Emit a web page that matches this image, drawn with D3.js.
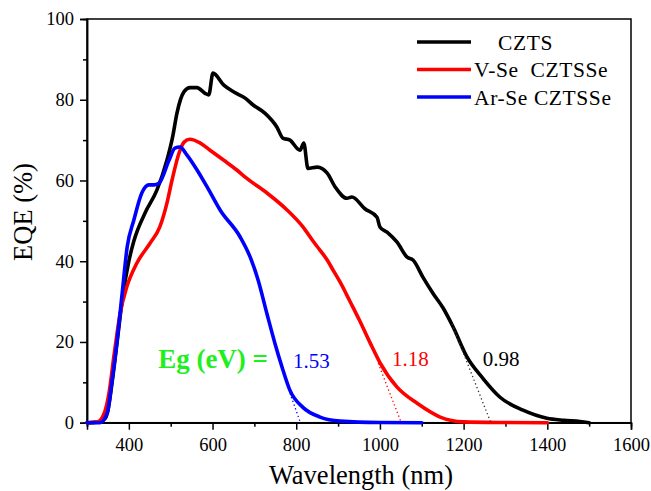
<!DOCTYPE html>
<html>
<head>
<meta charset="utf-8">
<script src="https://cdnjs.cloudflare.com/ajax/libs/d3/7.8.5/d3.min.js"></script>
<style>
  body { margin: 0; background: #fff; }
  svg text { font-family: "Liberation Serif", "Times New Roman", serif; }
</style>
</head>
<body>
<svg id="chart" width="651" height="491"></svg>
<script>
// EQE curves (wavelength in nm, EQE in %)
var cztsWl  = [300, 330, 343, 350, 360, 372, 385, 400, 412, 439, 467, 491, 505, 515, 532, 546, 563, 582, 591, 601, 627, 651, 678, 697, 725, 754, 768, 785, 809, 818, 828, 850, 874, 893, 921, 933, 964, 993, 1000, 1017, 1041, 1065, 1079, 1103, 1127, 1151, 1175, 1208, 1246, 1287, 1342, 1399, 1440, 1478, 1500];
var cztsEqe = [0, 0.2, 1, 3, 10, 20, 31, 40, 45, 52, 57.6, 65, 71, 76.7, 82, 83, 83, 81.6, 81.2, 86.6, 83.6, 81.9, 80.4, 78.7, 76.7, 73.2, 70.5, 70, 67.5, 69.3, 63, 63.3, 61.8, 58.4, 55.6, 55.9, 53, 50.9, 48.5, 47.2, 44.7, 41, 40.3, 36, 32, 28.4, 23.7, 16.3, 11, 6.3, 3.1, 1.1, 0.6, 0.3, 0];

var vseWl  = [300, 325, 341, 352, 365, 379, 395, 419, 451, 474, 491, 503, 520, 532, 546, 570, 594, 627, 658, 682, 730, 778, 816, 840, 857, 874, 888, 905, 920, 936, 952, 976, 1000, 1041, 1089, 1144, 1199, 1300, 1400];
var vseEqe = [0, 0.2, 2.3, 7, 17, 27, 33.6, 39.5, 44.5, 48.5, 54.4, 60, 66.8, 69.5, 70.2, 69.3, 67.5, 65, 62.6, 60.5, 56.9, 52.7, 48.5, 45, 42.7, 40.3, 37.8, 34.8, 31.8, 28.5, 25.2, 19.9, 14.9, 8.8, 4.8, 1.4, 0.2, 0.05, 0];

var arseWl  = [300, 331, 348, 360, 372, 384, 396, 412, 431, 448, 460, 472, 496, 510, 522, 539, 563, 587, 618, 666, 690, 709, 730, 749, 766, 785, 816, 857, 905, 1000, 1100];
var arseEqe = [0, 0, 2.3, 10.5, 20.4, 32, 43.5, 50.2, 56.9, 58.9, 58.9, 59.3, 65, 68, 68.3, 66.3, 62.6, 58.4, 52.7, 46, 41, 35.3, 27, 19.7, 13.8, 8, 3.8, 1.4, 0.4, 0.05, 0];

var seriesNames  = ["CZTS", "V-Se  CZTSSe", "Ar-Se CZTSSe"];
var seriesColors = ["#000000", "#ff0000", "#0000ff"];

// band-edge tangent lines: [start wl, end wl] and [start eqe, end eqe]
var tangentWl  = [[785, 810], [996, 1051], [1172, 1265]];
var tangentEqe = [[7.3, 0], [14.7, 0], [24.5, 0]];
var tangentColors = ["#0000ff", "#ff0000", "#333333"];

// band gap labels, anchored in data units
var gapLabels = ["1.53", "1.18", "0.98"];
var gapLabelWl  = [792, 1029, 1246];
var gapLabelEqe = [13.5, 14, 14];
var gapLabelColors = ["#0000ff", "#ff0000", "#000000"];

var xMajor = [400, 600, 800, 1000, 1200, 1400, 1600];
var xMinor = [300, 500, 700, 900, 1100, 1300, 1500];
var yMajor = [0, 20, 40, 60, 80, 100];
var yMinor = [10, 30, 50, 70, 90];

var svg = d3.select("#chart");

var x = d3.scaleLinear().domain([300, 1600]).range([87, 631]);
var y = d3.scaleLinear().domain([0, 100]).range([422.7, 19]);

// frame
svg.append("rect")
	.attr("x", x(300))
	.attr("y", y(100))
	.attr("width", x(1600) - x(300))
	.attr("height", y(0) - y(100))
	.attr("fill", "none")
	.attr("stroke", "#000")
	.attr("stroke-width", 1.5);

// axes
svg.append("g")
	.attr("transform", "translate(0," + y(0) + ")")
	.call(d3.axisBottom(x).tickValues(xMajor).tickSize(7).tickPadding(8).tickFormat(d3.format("d")));
svg.append("g")
	.attr("transform", "translate(0," + y(0) + ")")
	.call(d3.axisBottom(x).tickValues(xMinor).tickSize(4).tickFormat(""));

svg.append("g")
	.attr("transform", "translate(" + x(300) + ",0)")
	.call(d3.axisLeft(y).tickValues(yMajor).tickSize(7).tickPadding(6));
svg.append("g")
	.attr("transform", "translate(" + x(300) + ",0)")
	.call(d3.axisLeft(y).tickValues(yMinor).tickSize(4).tickFormat(""));

svg.selectAll(".domain").attr("stroke-width", 1.5);
svg.selectAll(".tick line").attr("stroke-width", 1.5);
svg.selectAll(".tick text")
	.attr("fill", "#000")
	.style("font-family", "'Liberation Serif', serif")
	.style("font-size", "18.5px");

// curves
var line = d3.line()
	.x(function (d) { return x(d[0]); })
	.y(function (d) { return y(d[1]); })
	.curve(d3.curveMonotoneX);

var allWl  = [cztsWl, vseWl, arseWl];
var allEqe = [cztsEqe, vseEqe, arseEqe];

for (let i = 0; i < 3; i++) {
	const pts = allWl[i].map(function (w, j) { return [w, allEqe[i][j]]; });
	svg.append("path")
		.datum(pts)
		.attr("d", line)
		.attr("fill", "none")
		.attr("stroke", seriesColors[i])
		.attr("stroke-width", 3.6)
		.attr("stroke-linejoin", "round")
		.attr("stroke-linecap", "round");
}

// dotted tangents
for (let i = 0; i < 3; i++) {
	svg.append("line")
		.attr("x1", x(tangentWl[i][0]))
		.attr("y1", y(tangentEqe[i][0]))
		.attr("x2", x(tangentWl[i][1]))
		.attr("y2", y(tangentEqe[i][1]))
		.attr("stroke", tangentColors[i])
		.attr("stroke-width", 1.3)
		.attr("stroke-dasharray", "1.3,2.7");
}

// band gap labels
svg.append("text")
	.text("Eg (eV) =")
	.attr("x", x(470))
	.attr("y", y(13.5))
	.attr("fill", "#1ef01e")
	.style("font-weight", "bold")
	.style("font-size", "27px");

for (let i = 0; i < 3; i++) {
	svg.append("text")
		.text(gapLabels[i])
		.attr("x", x(gapLabelWl[i]))
		.attr("y", y(gapLabelEqe[i]))
		.attr("fill", gapLabelColors[i])
		.style("font-size", "21px");
}

// legend
var legendY = [42, 69.5, 97];
var legendTextX = [498, 474, 474];
for (let i = 0; i < 3; i++) {
	svg.append("line")
		.attr("x1", 417).attr("x2", 471)
		.attr("y1", legendY[i]).attr("y2", legendY[i])
		.attr("stroke", seriesColors[i])
		.attr("stroke-width", 3.6);
	svg.append("text")
		.text(seriesNames[i])
		.attr("x", legendTextX[i])
		.attr("y", legendY[i] + 7.5)
		.attr("xml:space", "preserve")
		.style("white-space", "pre")
		.style("font-size", "21.5px")
		.style("letter-spacing", "0.6px");
}

// axis titles
svg.append("text")
	.text("Wavelength (nm)")
	.attr("x", 361)
	.attr("y", 484)
	.attr("text-anchor", "middle")
	.style("font-size", "26.5px");

svg.append("text")
	.text("EQE (%)")
	.attr("transform", "translate(32,212) rotate(-90)")
	.attr("text-anchor", "middle")
	.style("font-size", "26.5px");
</script>
</body>
</html>
